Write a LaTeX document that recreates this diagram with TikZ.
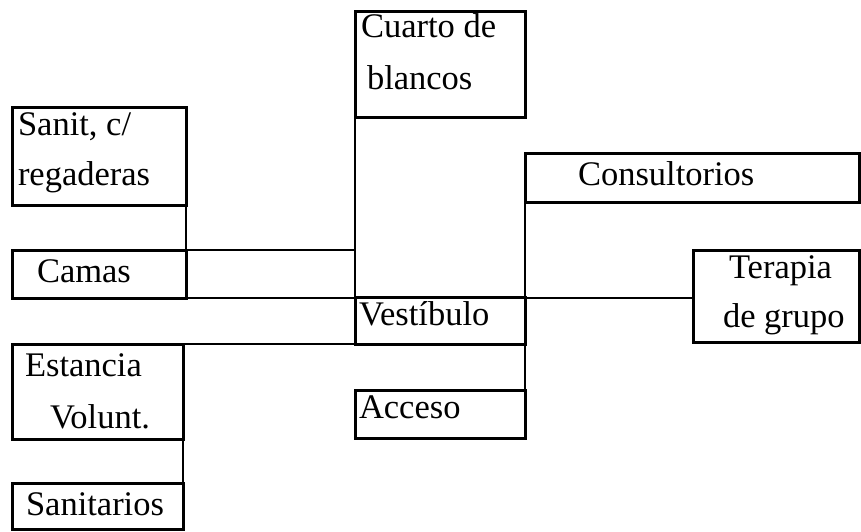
\documentclass[tikz,border=0pt]{standalone}
\usepackage{fontspec}
\setmainfont{Liberation Serif}
\begin{document}
\begin{tikzpicture}[x=1pt,y=-1pt,
  box/.style={draw=black, line width=3pt, rectangle, inner sep=0pt, outer sep=0pt, anchor=north west},
  txt/.style={inner sep=0pt, outer sep=0pt, anchor=base west, font=\fontsize{34.5}{40}\selectfont},
  link/.style={draw=black, line width=1.6pt}]
\useasboundingbox (0,0) rectangle (861,531);
% boxes
\node[box, minimum width=170, minimum height=106] (cuarto) at (355,11) {};
\node[box, minimum width=174, minimum height=98] (sanit) at (12,107) {};
\node[box, minimum width=174, minimum height=48] (camas) at (12,250) {};
\node[box, minimum width=334, minimum height=49] (consult) at (525,153) {};
\node[box, minimum width=166, minimum height=92] (terapia) at (693,250) {};
\node[box, minimum width=170, minimum height=47] (vest) at (355,297) {};
\node[box, minimum width=171, minimum height=95] (est) at (12,344) {};
\node[box, minimum width=170, minimum height=48] (acceso) at (355,390) {};
\node[box, minimum width=171, minimum height=46] (sanitarios) at (12,483) {};
% texts
\node[txt] (cuartoA) at (361,37) {Cuarto de};
\node[txt] (cuartoB) at (367,89) {blancos};
\node[txt] (sanitA) at (18,135) {Sanit, c/};
\node[txt] (sanitB) at (18,185) {regaderas};
\node[txt] (camasT) at (37,282) {Camas};
\node[txt] (consultT) at (578,185) {Consultorios};
\node[txt] (terapiaA) at (729,278) {Terapia};
\node[txt] (terapiaB) at (723,327) {de grupo};
\node[txt] (vestT) at (359,325) {Vestíbulo};
\node[txt] (estA) at (25,376) {Estancia};
\node[txt] (estB) at (50,428) {Volunt.};
\node[txt] (accesoT) at (359,418) {Acceso};
\node[txt] (sanitariosT) at (26,515) {Sanitarios};
% connectors
\coordinate (j1) at (camas.north east -| cuarto.south west);
\coordinate (j2) at (camas.south east -| terapia.west);
\draw[link] (sanit.south east) -- (camas.north east);
\draw[link] (cuarto.south west) -- (vest.north west);
\draw[link] (camas.north east) -- (j1);
\draw[link] (camas.south east) -- (j2);
\draw[link] (est.north east) -- (vest.south west);
\draw[link] (est.south east) -- (sanitarios.north east);
\draw[link] (consult.south west) -- (acceso.north east);
\end{tikzpicture}
\end{document}
